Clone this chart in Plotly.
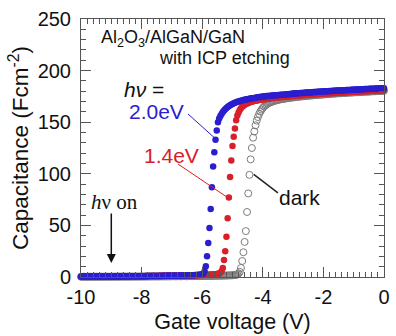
import numpy as np
import plotly.graph_objects as go

# Gate voltage sweep: -10 V to 0 V in 0.04 V steps (251 points)
gate_voltage = np.round(np.linspace(-10.0, 0.0, 251), 2)

# Capacitance (F cm^-2) under 2.0 eV illumination
cap_2p0ev = [
    0.5, 0.4, 0.5, 0.5, 0.4, 0.5, 0.5, 0.5, 0.4, 0.5, 0.5, 0.5, 0.5, 0.6, 0.5, 0.5, 0.5, 0.6, 0.5, 0.5, 0.6, 0.5, 0.6, 0.6, 0.5,
    0.6, 0.6, 0.5, 0.6, 0.6, 0.6, 0.6, 0.7, 0.6, 0.6, 0.6, 0.7, 0.6, 0.7, 0.7, 0.6, 0.7, 0.7, 0.7, 0.7, 0.8, 0.7, 0.7, 0.8, 0.7,
    0.8, 0.8, 0.8, 0.8, 0.9, 0.8, 0.9, 0.9, 0.9, 0.9, 0.9, 1.0, 0.9, 1.0, 1.0, 1.0, 1.0, 1.0, 1.1, 1.0, 1.1, 1.1, 1.1, 1.1, 1.2,
    1.2, 1.2, 1.2, 1.3, 1.3, 1.3, 1.3, 1.4, 1.4, 1.4, 1.5, 1.5, 1.5, 1.6, 1.6, 1.7, 1.7, 1.8, 1.8, 1.9, 2.0, 2.0, 2.1, 2.2, 2.3,
    2.6, 3.3, 5.5, 10.5, 20, 33, 47.5, 66, 87, 107, 121, 133, 142, 150, 153.5, 156, 158, 159.8, 161.3, 162.6, 163.7, 164.7, 165.6, 166.4, 167.1,
    167.7, 168.3, 168.8, 169.3, 169.7, 170.1, 170.5, 170.8, 171.1, 171.4, 171.7, 172.0, 172.2, 172.5, 172.7, 172.9, 173.1, 173.3, 173.5, 173.7, 173.9, 174.1, 174.3, 174.5, 174.7,
    174.9, 175.0, 175.2, 175.3, 175.4, 175.5, 175.6, 175.7, 175.8, 175.9, 176.0, 176.1, 176.2, 176.3, 176.4, 176.5, 176.6, 176.7, 176.8, 176.9, 177.1, 177.2, 177.3, 177.4, 177.6,
    177.7, 177.8, 177.9, 178.0, 178.0, 178.1, 178.2, 178.3, 178.4, 178.5, 178.6, 178.7, 178.7, 178.8, 178.9, 179.0, 179.1, 179.2, 179.3, 179.3, 179.4, 179.5, 179.6, 179.7, 179.7,
    179.8, 179.9, 180.0, 180.0, 180.1, 180.2, 180.2, 180.3, 180.4, 180.4, 180.5, 180.6, 180.6, 180.7, 180.8, 180.8, 180.9, 181.0, 181.0, 181.1, 181.2, 181.2, 181.3, 181.4, 181.4,
    181.5, 181.6, 181.6, 181.7, 181.8, 181.8, 181.9, 181.9, 182.0, 182.1, 182.1, 182.2, 182.2, 182.3, 182.3, 182.4, 182.5, 182.5, 182.6, 182.6, 182.7, 182.7, 182.8, 182.9, 182.9,
    183.0,
]

# Capacitance under 1.4 eV illumination
cap_1p4ev = [
    0.3, 0.3, 0.4, 0.3, 0.3, 0.4, 0.3, 0.4, 0.4, 0.3, 0.4, 0.4, 0.4, 0.4, 0.4, 0.5, 0.4, 0.4, 0.5, 0.4, 0.5, 0.5, 0.5, 0.5, 0.5,
    0.5, 0.5, 0.5, 0.5, 0.6, 0.5, 0.6, 0.6, 0.6, 0.6, 0.6, 0.6, 0.6, 0.7, 0.6, 0.7, 0.7, 0.7, 0.7, 0.7, 0.7, 0.8, 0.7, 0.8, 0.8,
    0.8, 0.8, 0.8, 0.9, 0.8, 0.9, 0.9, 0.9, 0.9, 1.0, 0.9, 1.0, 1.0, 1.0, 1.0, 1.1, 1.0, 1.1, 1.1, 1.1, 1.1, 1.2, 1.2, 1.2, 1.2,
    1.2, 1.3, 1.3, 1.3, 1.3, 1.4, 1.4, 1.4, 1.4, 1.5, 1.5, 1.5, 1.5, 1.6, 1.6, 1.6, 1.7, 1.7, 1.7, 1.8, 1.8, 1.8, 1.9, 1.9, 2.0,
    2.0, 2.0, 2.1, 2.1, 2.2, 2.2, 2.3, 2.4, 2.4, 2.5, 2.6, 2.7, 2.9, 3.1, 3.5, 4.2, 5.5, 8.7, 16.5, 25, 39, 57, 77, 97, 113,
    127, 136, 144, 152, 156.5, 159.5, 161.8, 163.5, 164.9, 166.0, 166.9, 167.6, 168.2, 168.7, 169.1, 169.5, 169.9, 170.2, 170.5, 170.8, 171.0, 171.3, 171.5, 171.7, 171.9,
    172.1, 172.3, 172.5, 172.6, 172.8, 172.9, 173.1, 173.2, 173.4, 173.5, 173.6, 173.8, 173.9, 174.0, 174.1, 174.3, 174.4, 174.5, 174.6, 174.7, 174.9, 175.0, 175.1, 175.2, 175.3,
    175.4, 175.5, 175.6, 175.7, 175.8, 175.9, 176.0, 176.1, 176.2, 176.3, 176.4, 176.5, 176.6, 176.7, 176.8, 176.8, 176.9, 177.0, 177.1, 177.2, 177.3, 177.3, 177.4, 177.5, 177.6,
    177.7, 177.8, 177.8, 177.9, 178.0, 178.1, 178.1, 178.2, 178.3, 178.4, 178.4, 178.5, 178.6, 178.7, 178.7, 178.8, 178.9, 178.9, 179.0, 179.1, 179.1, 179.2, 179.3, 179.3, 179.4,
    179.5, 179.5, 179.6, 179.7, 179.7, 179.8, 179.8, 179.9, 180.0, 180.0, 180.1, 180.1, 180.2, 180.2, 180.3, 180.4, 180.4, 180.5, 180.5, 180.6, 180.6, 180.7, 180.7, 180.8, 180.9,
    181.0,
]

# Capacitance in the dark
cap_dark = [
    0.2, 0.2, 0.2, 0.3, 0.2, 0.2, 0.3, 0.2, 0.3, 0.2, 0.3, 0.3, 0.2, 0.3, 0.3, 0.3, 0.3, 0.2, 0.3, 0.3, 0.3, 0.3, 0.3, 0.3, 0.3,
    0.3, 0.3, 0.3, 0.4, 0.3, 0.3, 0.4, 0.3, 0.4, 0.4, 0.4, 0.4, 0.3, 0.4, 0.4, 0.4, 0.4, 0.4, 0.4, 0.4, 0.5, 0.4, 0.4, 0.5, 0.4,
    0.5, 0.5, 0.4, 0.5, 0.5, 0.5, 0.5, 0.5, 0.5, 0.5, 0.6, 0.5, 0.5, 0.6, 0.5, 0.6, 0.6, 0.6, 0.6, 0.6, 0.6, 0.6, 0.6, 0.7, 0.6,
    0.7, 0.7, 0.7, 0.7, 0.7, 0.7, 0.7, 0.8, 0.7, 0.8, 0.8, 0.8, 0.8, 0.8, 0.8, 0.8, 0.9, 0.8, 0.9, 0.9, 0.9, 0.9, 0.9, 0.9, 1.0,
    1.0, 1.0, 1.0, 1.0, 1.0, 1.1, 1.1, 1.1, 1.1, 1.1, 1.2, 1.2, 1.2, 1.2, 1.3, 1.3, 1.3, 1.3, 1.4, 1.4, 1.4, 1.5, 1.5, 1.6, 1.6,
    1.7, 1.8, 1.9, 2.1, 2.4, 3.5, 5, 8.7, 15.5, 24, 34, 44.5, 63, 81, 99, 114, 125, 135, 141, 147, 151.5, 155, 158, 160.3, 162.2,
    163.8, 165.2, 166.3, 167.2, 167.9, 168.5, 169.1, 169.6, 170.0, 170.4, 170.8, 171.1, 171.4, 171.7, 172.0, 172.2, 172.4, 172.6, 172.8, 173.0, 173.2, 173.4, 173.6, 173.7, 173.9,
    174.0, 174.2, 174.3, 174.5, 174.6, 174.7, 174.9, 175.0, 175.1, 175.3, 175.4, 175.5, 175.6, 175.7, 175.8, 175.9, 176.0, 176.1, 176.2, 176.3, 176.4, 176.5, 176.6, 176.7, 176.8,
    176.9, 177.0, 177.1, 177.2, 177.3, 177.4, 177.5, 177.6, 177.6, 177.7, 177.8, 177.9, 178.0, 178.0, 178.1, 178.2, 178.3, 178.3, 178.4, 178.5, 178.6, 178.6, 178.7, 178.8, 178.8,
    178.9, 179.0, 179.0, 179.1, 179.2, 179.2, 179.3, 179.4, 179.4, 179.5, 179.6, 179.6, 179.7, 179.7, 179.8, 179.9, 179.9, 180.0, 180.0, 180.1, 180.2, 180.2, 180.3, 180.3, 180.4,
    180.5,
]

x_ticks = [-10, -8, -6, -4, -2, 0]
x_tick_labels = ["-10", "-8", "-6", "-4", "-2", "0"]
y_ticks = [0, 50, 100, 150, 200, 250]
y_tick_labels = ["0", "50", "100", "150", "200", "250"]

BLUE = "#2a1ecf"
RED = "#d8202a"
GREY = "#7c7c7c"
AXIS = "#555555"
SANS = "Liberation Sans, Arial, sans-serif"
SERIF = "Liberation Serif, Times New Roman, serif"

fig = go.Figure()

fig.add_trace(go.Scatter(
    x=gate_voltage, y=cap_dark, mode="markers", cliponaxis=False,
    marker=dict(symbol="circle-open", size=7, color=GREY, line=dict(width=1, color=GREY)),
    name="dark",
))
fig.add_trace(go.Scatter(
    x=gate_voltage, y=cap_1p4ev, mode="markers", cliponaxis=False,
    marker=dict(symbol="circle", size=6.5, color=RED, line=dict(width=0)),
    name="1.4eV",
))
fig.add_trace(go.Scatter(
    x=gate_voltage, y=cap_2p0ev, mode="markers", cliponaxis=False,
    marker=dict(symbol="circle", size=6.5, color=BLUE, line=dict(width=0)),
    name="2.0eV",
))

# Leader lines from labels to curves
fig.add_shape(type="line", x0=-6.47, y0=158, x1=-5.60, y1=135, line=dict(color=BLUE, width=1))
fig.add_shape(type="line", x0=-6.80, y0=109.5, x1=-5.16, y1=77, line=dict(color=RED, width=1))
fig.add_shape(type="line", x0=-4.30, y0=99.5, x1=-3.50, y1=81.5, line=dict(color="#222222", width=1.5))

def label(text, x, y, color="#111111", size=18, family=SANS):
    fig.add_annotation(text=text, x=x, y=y, xref="x", yref="y", showarrow=False,
                       xanchor="left", yanchor="middle",
                       font=dict(family=family, size=size, color=color))

label("Al<sub>2</sub>O<sub>3</sub>/AlGaN/GaN", -9.42, 231.5, size=18)
label("with ICP etching", -7.50, 212, size=18)
label("<i>hν</i> =", -8.64, 182, size=21)
label("2.0eV", -8.47, 160, color=BLUE, size=21)
label("1.4eV", -7.99, 118, color=RED, size=21)
label("dark", -3.52, 77.5, size=21)
label("<i>h</i>ν on", -9.74, 72.7, size=21, family=SERIF)

# Light switched on at -9 V
fig.add_annotation(x=-9.0, y=13.5, ax=-9.0, ay=63, xref="x", yref="y", axref="x", ayref="y",
                   text="", showarrow=True, arrowhead=2, arrowsize=1.2, arrowwidth=1.5,
                   arrowcolor="#111111")

fig.update_layout(
    width=396, height=336,
    margin=dict(l=81, r=6, t=19, b=59),
    paper_bgcolor="white", plot_bgcolor="white",
    showlegend=False,
    font=dict(family=SANS, size=20, color="#111111"),
    xaxis=dict(
        range=[-10, 0], tickvals=x_ticks, ticktext=x_tick_labels, ticks="inside",
        ticklen=10, tickwidth=1, tickcolor=AXIS, showline=True, linecolor=AXIS,
        linewidth=1, mirror="allticks", showgrid=False, zeroline=False,
        minor=dict(dtick=0.2, ticks="inside", ticklen=5, tickcolor=AXIS, showgrid=False),
        tickfont=dict(size=20), ticklabelstandoff=2,
        title=dict(text="Gate voltage (V)", font=dict(size=21.5), standoff=6),
    ),
    yaxis=dict(
        range=[0, 250], tickvals=y_ticks, ticktext=y_tick_labels, ticks="inside",
        ticklen=10, tickwidth=1, tickcolor=AXIS, showline=True, linecolor=AXIS,
        linewidth=1, mirror="allticks", showgrid=False, zeroline=False,
        minor=dict(dtick=10, ticks="inside", ticklen=5, tickcolor=AXIS, showgrid=False),
        tickfont=dict(size=20), ticklabelstandoff=5,
        title=dict(text="Capacitance (Fcm<sup>-2</sup>)", font=dict(size=22.5), standoff=2),
    ),
)

fig.write_html("out.html")
